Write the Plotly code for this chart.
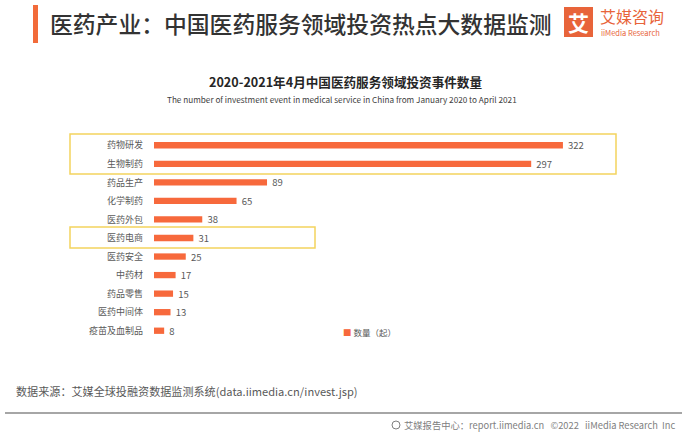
import plotly.graph_objects as go

categories = ["药物研发", "生物制药", "药品生产", "化学制药", "医药外包", "医药电商",
              "医药安全", "中药材", "药品零售", "医药中间体", "疫苗及血制品"]
values = [322, 297, 89, 65, 38, 31, 25, 17, 15, 13, 8]
series_name = "数量（起）"

W, H = 692, 436
L, R, T, B = 154, 30, 136, 96
PW, PH = W - L - R, H - T - B

def px(x):
    return (x - L) / PW

def py(y):
    return 1 - (y - T) / PH

FONT = "Noto Sans CJK SC, Noto Sans, sans-serif"
BAR = "#F7693C"

fig = go.Figure()
fig.add_trace(go.Bar(
    y=categories, x=values, orientation="h", name=series_name,
    marker=dict(color=BAR, line=dict(width=0)), width=0.34,
    text=values, texttemplate=" %{x}", textposition="outside", constraintext="none",
    textfont=dict(size=9.5, color="#595959", family=FONT),
    cliponaxis=False, showlegend=False, hoverinfo="skip",
))

shapes = [
    dict(type="rect", xref="paper", yref="paper", x0=px(33), x1=px(38), y0=py(43), y1=py(5),
         fillcolor="#F26B3A", line=dict(width=0), layer="above"),
    dict(type="rect", xref="paper", yref="paper", x0=px(564), x1=px(593), y0=py(37), y1=py(7),
         fillcolor="#E8643A", line=dict(width=0), layer="above"),
    dict(type="rect", xref="paper", yref="paper", x0=px(70), x1=px(616), y0=py(174), y1=py(134),
         line=dict(color="#F4D45E", width=1.5), fillcolor="rgba(0,0,0,0)", layer="above"),
    dict(type="rect", xref="paper", yref="paper", x0=px(70), x1=px(315), y0=py(248), y1=py(227),
         line=dict(color="#F4D45E", width=1.5), fillcolor="rgba(0,0,0,0)", layer="above"),
    dict(type="line", xref="paper", yref="paper", x0=px(5), x1=px(682), y0=py(413), y1=py(413),
         line=dict(color="#A6A6A6", width=2), layer="above"),
    dict(type="circle", xref="paper", yref="paper", x0=px(392), x1=px(400), y0=py(429), y1=py(421),
         line=dict(color="#808080", width=1), fillcolor="rgba(0,0,0,0)", layer="above"),
]

def ann(text, x, y, size, color, xanchor="left", bold=False, weight=None, family=FONT):
    font = dict(size=size, color=color, family=family)
    if weight:
        font["weight"] = weight
    return dict(text=f"<b>{text}</b>" if bold else text, xref="paper", yref="paper",
                x=px(x), y=py(y), xanchor=xanchor, yanchor="middle", showarrow=False,
                font=font)

annotations = [
    ann("医药产业：中国医药服务领域投资热点大数据监测", 48, 24, 22.8, "#333333", weight=500),
    ann("艾", 578.5, 22, 21, "#FFFFFF", xanchor="center", bold=True),
    ann("艾媒咨询", 598, 16, 16, "#E8643A"),
    ann("iiMedia Research", 599, 32, 7.5, "#E8643A"),
    ann("2020-2021年4月中国医药服务领域投资事件数量", 345, 81, 12.6, "#262626", xanchor="center", bold=True),
    ann("The number of investment event in medical service in China from January 2020 to April 2021",
        342, 99, 8.2, "#404040", xanchor="center"),
    ann(f"<span style='color:{BAR}'>■</span> {series_name}", 341, 332, 8.5, "#595959"),
    ann("数据来源：艾媒全球投融资数据监测系统(data.iimedia.cn/invest.jsp)", 14, 391, 11.1, "#595959"),
    ann("艾媒报告中心：report.iimedia.cn   ©2022   iiMedia Research  Inc", 678, 425, 9.3, "#808080",
        xanchor="right"),
]

fig.update_layout(
    width=W, height=H, margin=dict(l=L, r=R, t=T, b=B, pad=0),
    paper_bgcolor="white", plot_bgcolor="white",
    font=dict(family=FONT, size=9, color="#595959"),
    xaxis=dict(range=[0, 400], visible=False, fixedrange=True),
    yaxis=dict(categoryorder="array", categoryarray=categories, autorange="reversed",
               showgrid=False, showline=False, zeroline=False, ticks="",
               ticklabelstandoff=10, tickfont=dict(size=9, color="#595959", family=FONT),
               fixedrange=True),
    shapes=shapes, annotations=annotations, showlegend=False,
)

fig.write_html("out.html", config={"displayModeBar": False})

with open("out.html", encoding="utf-8") as f:
    html = f.read()
html = html.replace("<head>", "<head><style>html,body{margin:0;padding:0;overflow:hidden;}</style>", 1)
with open("out.html", "w", encoding="utf-8") as f:
    f.write(html)
